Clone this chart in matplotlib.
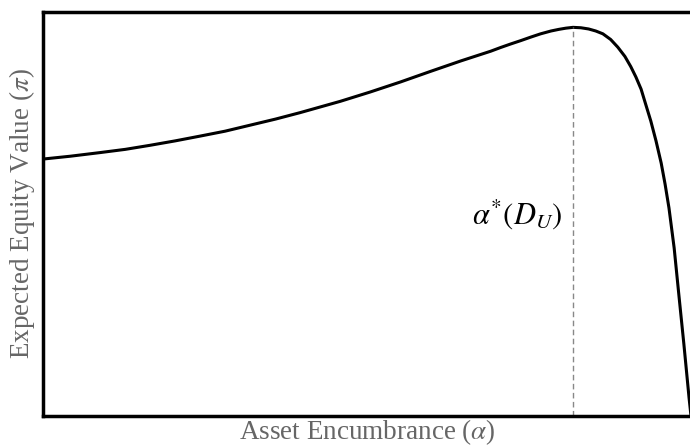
import matplotlib.pyplot as plt

plt.rcParams["font.family"] = ["Liberation Serif", "DejaVu Serif"]
plt.rcParams["mathtext.fontset"] = "stix"

# expected equity value against asset encumbrance (normalised units)
alpha = [0.000, 0.042, 0.088, 0.127, 0.165, 0.204, 0.243, 0.281, 0.320,
         0.359, 0.397, 0.428, 0.459, 0.505, 0.552, 0.598, 0.645, 0.691,
         0.706, 0.722, 0.737, 0.753, 0.768, 0.784, 0.796, 0.807, 0.818,
         0.830, 0.842, 0.853, 0.864, 0.876, 0.887, 0.898, 0.907, 0.915,
         0.923, 0.930, 0.938, 0.946, 0.954, 0.960, 0.966, 0.974, 0.981,
         0.989, 0.997, 1.000]
equity = [0.636, 0.643, 0.652, 0.660, 0.670, 0.681, 0.693, 0.705, 0.720,
          0.735, 0.751, 0.765, 0.779, 0.802, 0.827, 0.853, 0.879, 0.903,
          0.912, 0.921, 0.929, 0.938, 0.946, 0.953, 0.957, 0.960, 0.962,
          0.961, 0.958, 0.953, 0.946, 0.932, 0.913, 0.890, 0.865, 0.839,
          0.809, 0.772, 0.730, 0.681, 0.626, 0.574, 0.515, 0.416, 0.304,
          0.178, 0.045, 0.000]

x_label = r"Asset Encumbrance ($\alpha$)"
y_label = r"Expected Equity Value ($\pi$)"
opt_label = r"$\alpha^{*}(D_U)$"

fig = plt.figure(figsize=(6.9, 4.46), dpi=100)
ax = fig.add_axes([43 / 690, 30 / 446, 648 / 690, 404 / 446])

ax.plot(alpha, equity, color="black", lw=2.2, solid_joinstyle="round")

# optimal encumbrance at the peak
i_max = equity.index(max(equity))
a_star = alpha[i_max]
ax.vlines(a_star, 0, equity[i_max], colors="#888888", lw=1.0,
          linestyles=(0, (4, 2.5)))
ax.text(a_star - 0.016, 0.5, opt_label, fontsize=22, ha="right", va="center")

ax.set_xlim(0, 1)
ax.set_ylim(0, 1)
ax.set_xticks([])
ax.set_yticks([])
for side in ["left", "top", "bottom"]:
    ax.spines[side].set_linewidth(2.5)
ax.spines["right"].set_visible(False)

ax.set_xlabel(x_label, fontsize=19.5, color="#666666", labelpad=1)
ax.set_ylabel(y_label, fontsize=19.5, color="#666666", labelpad=4)

fig.savefig("out.png", dpi=100)
